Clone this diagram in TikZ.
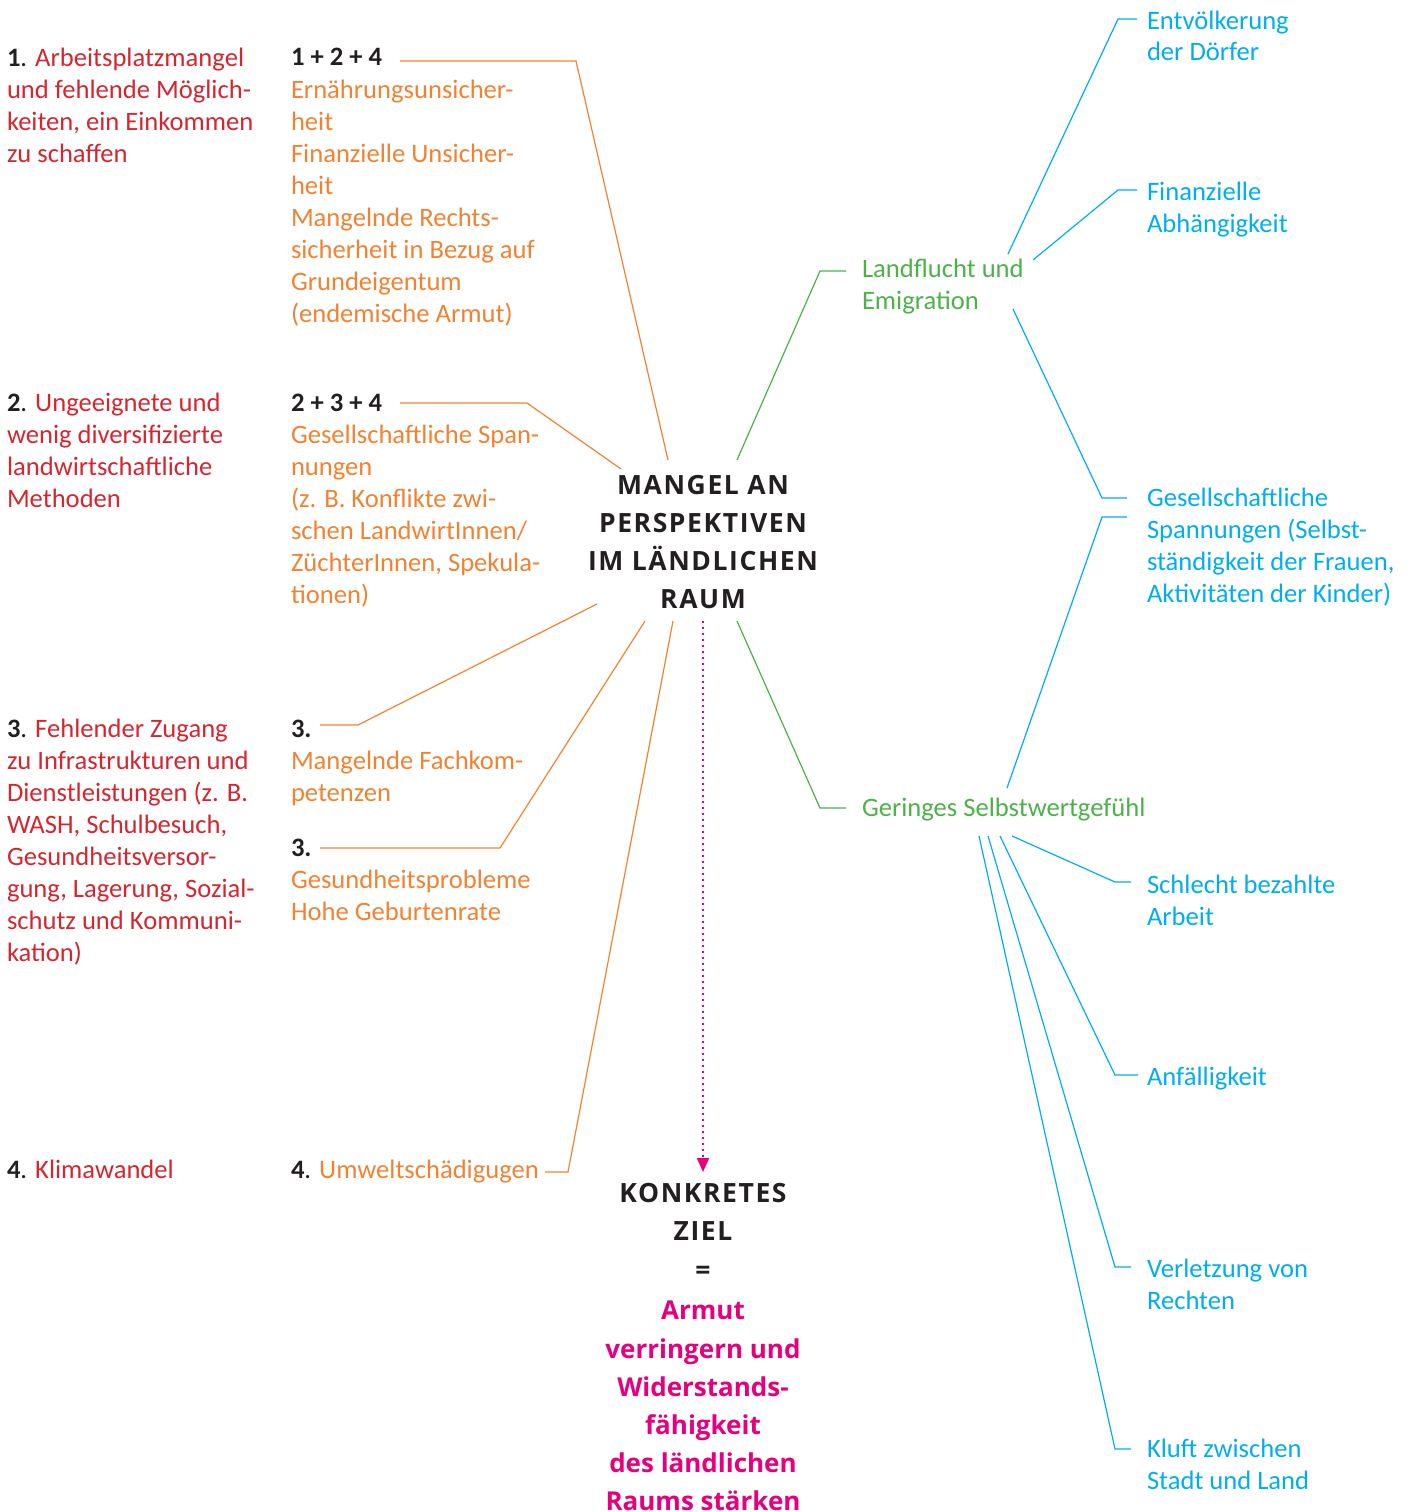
\documentclass[tikz,border=0pt]{standalone}
\usepackage{fontspec}
\setmainfont{Carlito}
\newfontfamily\headfont[LetterSpace=6]{Open Sans}
\newfontfamily\pinkfont{Open Sans}
\usetikzlibrary{arrows.meta}
\definecolor{dark}{RGB}{35,31,32}
\definecolor{cred}{RGB}{213,38,47}
\definecolor{corange}{RGB}{241,130,50}
\definecolor{cgreen}{RGB}{76,178,72}
\definecolor{cblue}{RGB}{0,174,239}
\definecolor{cpink}{RGB}{230,0,126}
\newcommand{\numb}[1]{{\color{dark}\bfseries #1}{\color{dark}.}}
\tikzset{
  body/.style={anchor=north west, inner sep=0pt, outer sep=0pt, align=left,
    font=\fontsize{26.6}{32}\selectfont},
  redtxt/.style={body, text=cred},
  ortxt/.style={body, text=corange},
  numtxt/.style={body, text=dark, font=\fontsize{26.6}{32}\selectfont\bfseries},
  grtxt/.style={body, text=cgreen},
  bltxt/.style={body, text=cblue},
  headtxt/.style={anchor=north, inner sep=0pt, align=center, text=dark,
    font=\headfont\fontsize{26.5}{38.3}\selectfont\bfseries},
  pinktxt/.style={anchor=north, inner sep=0pt, align=center, text=cpink,
    font=\pinkfont\fontsize{26}{38.2}\selectfont\bfseries},
  oline/.style={draw=corange, line width=1.2pt},
  gline/.style={draw=cgreen, line width=1.2pt},
  bline/.style={draw=cblue, line width=1.2pt},
  pline/.style={draw=cpink, line width=1.6pt, dash pattern=on 1.6pt off 4.4pt,
    -{Triangle[length=14pt,width=12pt]}},
}
\begin{document}
\begin{tikzpicture}[x=1pt,y=-1pt]
\useasboundingbox (0,0) rectangle (1413,1512);
% left red column
\node[redtxt] (r1) at (7,43.6) {\strut\numb{1} Arbeitsplatzmangel\\und fehlende Möglich-\\keiten, ein Einkommen\\zu schaffen};
\node[redtxt] (r2) at (7,388.6) {\strut\numb{2} Ungeeignete und\\wenig diversifizierte\\landwirtschaftliche\\Methoden};
\node[redtxt] (r3) at (7,714.6) {\strut\numb{3} Fehlender Zugang\\zu Infrastrukturen und\\Dienstleistungen (z. B.\\WASH, Schulbesuch,\\Gesundheitsversor-\\gung, Lagerung, Sozial-\\schutz und Kommuni-\\kation)};
\node[redtxt] (r4) at (7,1155.6) {\strut\numb{4} Klimawandel};
% orange column
\node[numtxt] (h1) at (291,43.6) {\strut 1 + 2 + 4};
\node[ortxt] (o1) at (291,75.6) {\strut Ernährungsunsicher-\\heit\\Finanzielle Unsicher-\\heit\\Mangelnde Rechts-\\sicherheit in Bezug auf\\Grundeigentum\\(endemische Armut)};
\node[numtxt] (h2) at (291,388.6) {\strut 2 + 3 + 4};
\node[ortxt] (o2) at (291,420.6) {\strut Gesellschaftliche Span-\\nungen\\(z. B. Konflikte zwi-\\schen LandwirtInnen/\\ZüchterInnen, Spekula-\\tionen)};
\node[numtxt] (h3) at (291,714.6) {\strut 3.};
\node[ortxt] (o3) at (291,746.6) {\strut Mangelnde Fachkom-\\petenzen};
\node[numtxt] (h4) at (291,833.6) {\strut 3.};
\node[ortxt] (o4) at (291,865.6) {\strut Gesundheitsprobleme\\Hohe Geburtenrate};
\node[ortxt] (o5) at (291,1155.6) {\strut\numb{4} Umweltschädigugen};
% centre
\node[headtxt] (mangel) at (703,467) {\strut MANGEL AN\\PERSPEKTIVEN\\IM LÄNDLICHEN\\RAUM};
\node[headtxt] (ziel) at (703,1175.4) {\strut KONKRETES\\ZIEL\\=};
\node[pinktxt] (goal) at (703,1293) {\strut Armut\\verringern und\\Widerstands-\\fähigkeit\\des ländlichen\\Raums stärken};
% green
\node[grtxt] (g1) at (862,254.6) {\strut Landflucht und\\Emigration};
\node[grtxt] (g2) at (862,793.6) {\strut Geringes Selbstwertgefühl};
% blue
\node[bltxt] (b1) at (1147,6.6) {\strut Entvölkerung\\der Dörfer};
\node[bltxt] (b2) at (1147,177.6) {\strut Finanzielle\\Abhängigkeit};
\node[bltxt] (b3) at (1147,483.6) {\strut Gesellschaftliche\\Spannungen (Selbst-\\ständigkeit der Frauen,\\Aktivitäten der Kinder)};
\node[bltxt] (b4) at (1147,870.6) {\strut Schlecht bezahlte\\Arbeit};
\node[bltxt] (b5) at (1147,1062.6) {\strut Anfälligkeit};
\node[bltxt] (b6) at (1147,1254.6) {\strut Verletzung von\\Rechten};
\node[bltxt] (b7) at (1147,1434.6) {\strut Kluft zwischen\\Stadt und Land};
% connector end points
\coordinate (h1s) at (400,61);   \coordinate (m1) at (668,460);
\coordinate (h2s) at (400,403);  \coordinate (m2) at (621,469);
\coordinate (h3s) at (320,725);  \coordinate (m3) at (597,604);
\coordinate (h4s) at (320,848);  \coordinate (m4) at (645,621);
\coordinate (o5s) at (545,1172); \coordinate (m5) at (673,621);
\coordinate (mg1) at (737,460);  \coordinate (g1s) at (846,271);
\coordinate (mg2) at (737,621);  \coordinate (g2s) at (846,808);
\coordinate (g1a) at (1008,254); \coordinate (b1s) at (1137,19);
\coordinate (g1b) at (1033,260); \coordinate (b2s) at (1137,190);
\coordinate (g1c) at (1013,309); \coordinate (b3s) at (1127,498);
\coordinate (g2a) at (1007,788); \coordinate (b3t) at (1127,517);
\coordinate (g2b) at (1012,836); \coordinate (b4s) at (1131,882);
\coordinate (g2c) at (1000,836); \coordinate (b5s) at (1138,1075);
\coordinate (g2d) at (988,836);  \coordinate (b6s) at (1131,1267);
\coordinate (g2e) at (979,836);  \coordinate (b7s) at (1131,1449);
\coordinate (mp) at (703,621);   \coordinate (zt) at (703,1172);
% orange connectors
\draw[oline] (h1s) -- (576,61) -- (m1);
\draw[oline] (h2s) -- (527,403) -- (m2);
\draw[oline] (h3s) -- (358,725) -- (m3);
\draw[oline] (h4s) -- (500,848) -- (m4);
\draw[oline] (o5s) -- (568,1172) -- (m5);
% green connectors
\draw[gline] (mg1) -- (820,271) -- (g1s);
\draw[gline] (mg2) -- (820,808) -- (g2s);
% blue connectors
\draw[bline] (g1a) -- (1118,19) -- (b1s);
\draw[bline] (g1b) -- (1118,190) -- (b2s);
\draw[bline] (g1c) -- (1102,498) -- (b3s);
\draw[bline] (g2a) -- (1102,517) -- (b3t);
\draw[bline] (g2b) -- (1115,882) -- (b4s);
\draw[bline] (g2c) -- (1115,1075) -- (b5s);
\draw[bline] (g2d) -- (1115,1267) -- (b6s);
\draw[bline] (g2e) -- (1115,1449) -- (b7s);
% pink dotted arrow
\draw[pline] (mp) -- (zt);
\end{tikzpicture}
\end{document}
